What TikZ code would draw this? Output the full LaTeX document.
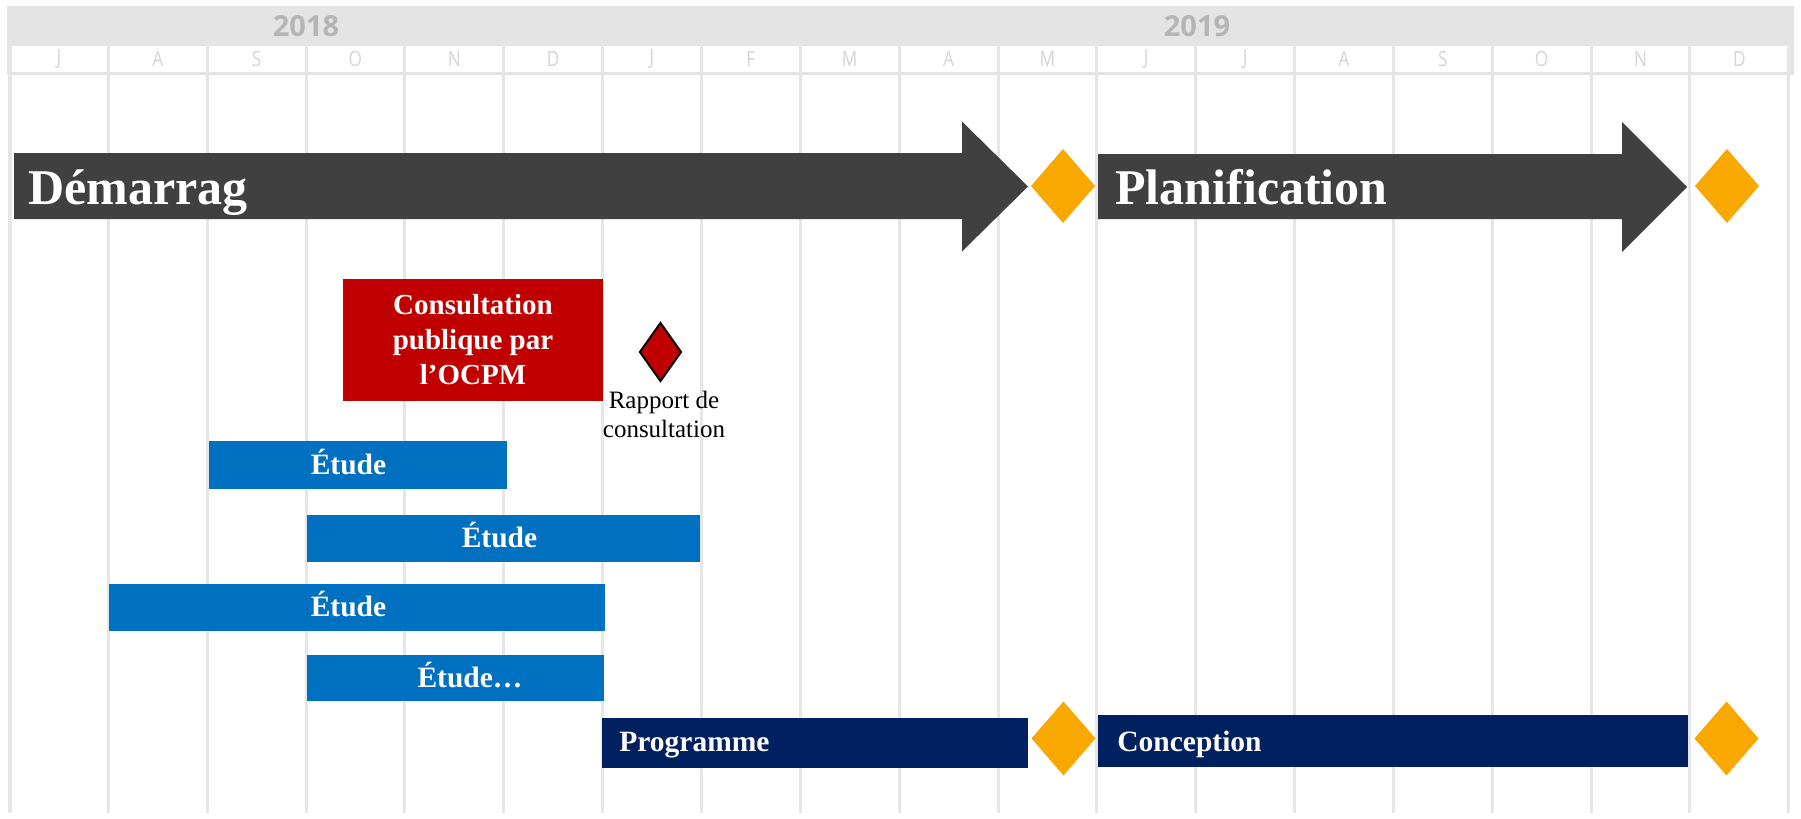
\documentclass[tikz,border=0pt]{standalone}
\usepackage{fontspec}
\setmainfont{Liberation Serif}
\newfontfamily\yearfont{Open Sans}
\newfontfamily\monthfont{Open Sans}[FakeStretch=0.82]
\usetikzlibrary{shapes.geometric}
\definecolor{gridc}{HTML}{E6E6E6}
\definecolor{hdrgray}{HTML}{E4E4E4}
\definecolor{yeargray}{HTML}{B5B5B5}
\definecolor{monthgray}{HTML}{D5D5D5}
\definecolor{arrowgray}{HTML}{404040}
\definecolor{orangeD}{HTML}{F9A800}
\definecolor{redC}{HTML}{C00000}
\definecolor{blueE}{HTML}{0070C0}
\definecolor{navyP}{HTML}{002060}
\tikzset{
  gridline/.style={draw=gridc, line width=1.5pt},
  monthlbl/.style={text=monthgray, font=\monthfont\fontsize{10.5}{12}\selectfont, inner sep=0},
  yearlbl/.style={text=yeargray, font=\yearfont\bfseries\fontsize{14.5}{17}\selectfont, inner sep=0},
  phasearrow/.style={fill=arrowgray},
  phaselbl/.style={text=white, font=\bfseries\fontsize{25}{30}\selectfont, inner sep=0, anchor=base west},
  milestone/.style={diamond, fill=orangeD, inner sep=0, outer sep=0, minimum width=32pt, minimum height=37pt},
  redms/.style={diamond, fill=redC, draw=black, line width=1pt, inner sep=0, minimum width=21pt, minimum height=29.5pt},
  bar/.style={anchor=north west, inner sep=0, outer sep=0},
  barlbl/.style={text=white, font=\bfseries\fontsize{14.75}{17}\selectfont, inner sep=0},
}
\begin{document}
\begin{tikzpicture}[x=0.5pt,y=-0.5pt]
\useasboundingbox (0,0) rectangle (1801,819);
\fill[white] (0,0) rectangle (1801,819);
% header
\fill[hdrgray] (7,6) rectangle (1794,74.5);
\fill[white] (10,45.5) rectangle (1788,71.5);
% grid
\foreach \i in {0,...,18}
  \draw[gridline] ({9.5+98.85*\i},44) -- ({9.5+98.85*\i},813);
\draw[gridline, line width=2pt] (9.5,44) -- (9.5,813);
\foreach \m [count=\i from 0] in {J,A,S,O,N,D,J,F,M,A,M,J,J,A,S,O,N,D}
  \node[monthlbl] (m\i) at ({9.5+98.85*\i+49.4},59) {\m};
\node[yearlbl] (y2018) at (306,26) {2018};
\node[yearlbl] (y2019) at (1197,26) {2019};
% phase arrows
\fill[phasearrow] (14,153) -- (962,153) -- (962,121.5) -- (1028,186.5) -- (962,251.5) -- (962,219) -- (14,219) -- cycle;
\fill[phasearrow] (1098,154) -- (1622,154) -- (1622,122) -- (1687,187) -- (1622,252) -- (1622,219) -- (1098,219) -- cycle;
\node[phaselbl] (demarr) at (28,204) {Démarrag};
\node[phaselbl] (planif) at (1115,204) {Planification};
\node[milestone] (ms1) at (1063,186) {};
\node[milestone] (ms2) at (1727,186) {};
% consultation
\node[bar, fill=redC, minimum width=130pt, minimum height=60.75pt] (consult) at (343,279) {};
\node[align=center, text=white, font=\bfseries\fontsize{14.5}{17.5}\selectfont, inner sep=0] (consultlbl) at (473,340) {Consultation\\publique par\\l’OCPM};
\node[redms] (rapport) at (660.5,352) {};
\node[align=center, font=\fontsize{12.5}{14.5}\selectfont, inner sep=0] (rapportlbl) at (664,414) {Rapport de\\consultation};
% etudes
\node[bar, fill=blueE, minimum width=149pt, minimum height=23.75pt] (e1) at (209,441) {};
\node[barlbl, anchor=base] (e1lbl) at (348.5,474) {Étude};
\node[bar, fill=blueE, minimum width=196.75pt, minimum height=23.5pt] (e2) at (306.5,514.5) {};
\node[barlbl, anchor=base] (e2lbl) at (499.5,547.5) {Étude};
\node[bar, fill=blueE, minimum width=247.75pt, minimum height=23.5pt] (e3) at (109,583.5) {};
\node[barlbl, anchor=base] (e3lbl) at (348.5,616.5) {Étude};
\node[bar, fill=blueE, minimum width=148.75pt, minimum height=23.25pt] (e4) at (306.5,654.5) {};
\node[barlbl, anchor=base] (e4lbl) at (470,687) {Étude…};
% programme / conception
\node[bar, fill=navyP, minimum width=212.75pt, minimum height=24.75pt] (prog) at (602,718) {};
\node[barlbl, anchor=base west] (proglbl) at (619,751.5) {Programme};
\node[milestone] (ms3) at (1063.5,738.5) {};
\node[bar, fill=navyP, minimum width=295pt, minimum height=25.75pt] (conc) at (1098,715) {};
\node[barlbl, anchor=base west] (conclbl) at (1117,751.5) {Conception};
\node[milestone] (ms4) at (1726.5,738.5) {};
\end{tikzpicture}
\end{document}
